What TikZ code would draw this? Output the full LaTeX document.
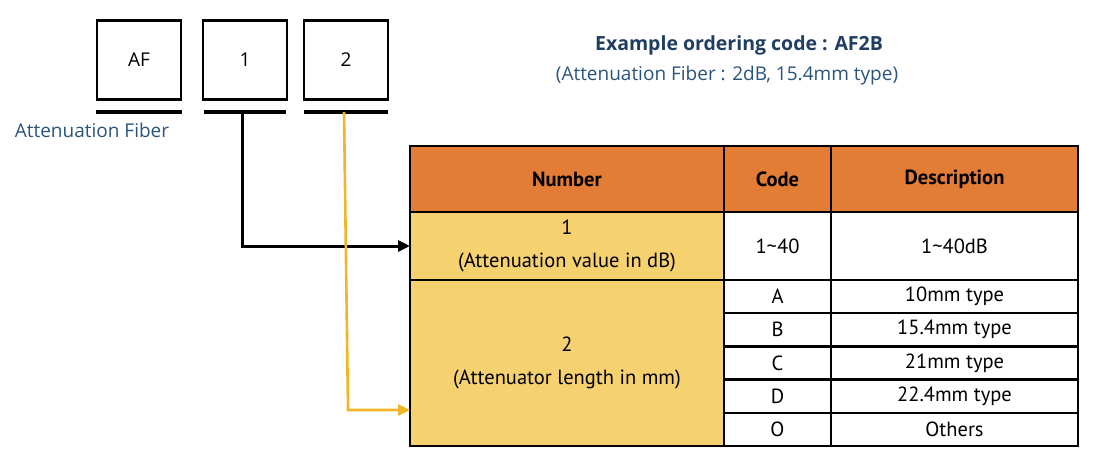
\documentclass[tikz,border=0pt]{standalone}
\usepackage{fontspec}
\setmainfont{Open Sans}
\newfontfamily\tabfont{PT Sans}
\usetikzlibrary{arrows.meta}
\definecolor{hdrorange}{RGB}{227,124,53}
\definecolor{cellyellow}{RGB}{246,209,112}
\definecolor{arrowyellow}{RGB}{240,182,40}
\definecolor{titleblue}{RGB}{32,62,98}
\definecolor{subblue}{RGB}{42,84,124}
\tikzset{
  codebox/.style={draw=black, line width=2.6pt, minimum width=84pt, minimum height=79pt, inner sep=0pt, outer sep=0pt, font=\fontsize{19}{22}\selectfont},
  uline/.style={line width=4pt},
  cell/.style={draw=black, line width=2.4pt, inner sep=0pt, outer sep=0pt, anchor=north west, align=center, font=\tabfont\fontsize{20.5}{33}\selectfont},
  hdr/.style={cell, fill=hdrorange, font=\tabfont\bfseries\fontsize{20.5}{33}\selectfont},
  ycell/.style={cell, fill=cellyellow},
  wcell/.style={cell, fill=white},
  conn/.style={line width=3pt, -{Triangle[length=12pt,width=11pt]}},
}
\begin{document}
\begin{tikzpicture}[x=1pt,y=-1pt]
\useasboundingbox (0,0) rectangle (1097,468);
% code boxes
\node[codebox] (af) at (139,60) {AF};
\node[codebox] (b1) at (245,60) {1};
\node[codebox] (b2) at (346,60) {2};
\draw[uline] (96,112) coordinate (uafl) -- (182,112) coordinate (uafr);
\draw[uline] (204,112) coordinate (u1l) -- (286,112) coordinate (u1r);
\draw[uline] (304,112) coordinate (u2l) -- (388,112) coordinate (u2r);
\coordinate (u1) at (242,112);
\coordinate (u2) at (344,112);
\node[text=subblue, font=\fontsize{19}{22}\selectfont] (aflabel) at (92,130) {Attenuation Fiber};
% titles
\node[text=titleblue, font=\bfseries\fontsize{19.5}{22}\selectfont] (title) at (739,45) {Example ordering code : AF2B};
\node[text=subblue, font=\fontsize{19}{22}\selectfont] (subtitle) at (727,76) {(Attenuation Fiber : 2dB, 15.4mm type)};
% table
\node[hdr, minimum width=314pt, minimum height=66pt] (hnum) at (410,146) {Number};
\node[hdr, minimum width=107pt, minimum height=66pt] (hcode) at (724,146) {Code};
\node[hdr, minimum width=247pt, minimum height=66pt] (hdesc) at (831,146) {Description};
\node[ycell, minimum width=314pt, minimum height=68pt] (r1num) at (410,212) {1\\(Attenuation value in dB)};
\node[wcell, minimum width=107pt, minimum height=68pt] (r1code) at (724,212) {1\textasciitilde40};
\node[wcell, minimum width=247pt, minimum height=68pt] (r1desc) at (831,212) {1\textasciitilde40dB};
\node[ycell, minimum width=314pt, minimum height=166pt] (r2num) at (410,280) {2\\(Attenuator length in mm)};
\node[wcell, minimum width=107pt, minimum height=33.2pt] (ca) at (724,280) {A};
\node[wcell, minimum width=247pt, minimum height=33.2pt] (da) at (831,280) {10mm type};
\node[wcell, minimum width=107pt, minimum height=33.2pt] (cb) at (724,313.2) {B};
\node[wcell, minimum width=247pt, minimum height=33.2pt] (db) at (831,313.2) {15.4mm type};
\node[wcell, minimum width=107pt, minimum height=33.2pt] (cc) at (724,346.4) {C};
\node[wcell, minimum width=247pt, minimum height=33.2pt] (dc) at (831,346.4) {21mm type};
\node[wcell, minimum width=107pt, minimum height=33.2pt] (cd) at (724,379.6) {D};
\node[wcell, minimum width=247pt, minimum height=33.2pt] (dd) at (831,379.6) {22.4mm type};
\node[wcell, minimum width=107pt, minimum height=33.2pt] (co) at (724,412.8) {O};
\node[wcell, minimum width=247pt, minimum height=33.2pt] (do) at (831,412.8) {Others};
% connectors
\coordinate (t2) at (410,410);
\draw[conn, black] (u1) |- (r1num.west);
\draw[conn, arrowyellow, line width=2.6pt] (u2) -- (348,410) -- (t2);
\end{tikzpicture}
\end{document}
